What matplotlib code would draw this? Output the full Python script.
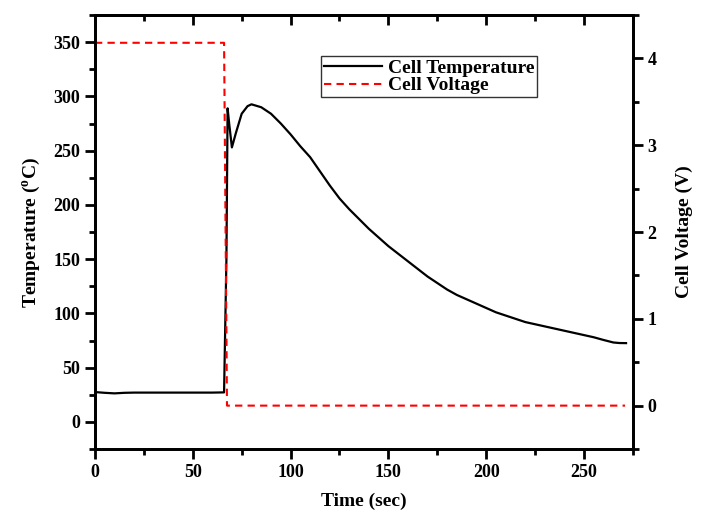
import numpy as np
import matplotlib
matplotlib.use('Agg')
import matplotlib.pyplot as plt
from matplotlib.ticker import MultipleLocator

plt.rcParams['font.family'] = ['Liberation Serif', 'DejaVu Serif']
plt.rcParams['font.weight'] = 'bold'
plt.rcParams['mathtext.fontset'] = 'custom'
plt.rcParams['mathtext.rm'] = 'Liberation Serif'
plt.rcParams['mathtext.it'] = 'Liberation Serif'
plt.rcParams['mathtext.bf'] = 'Liberation Serif:bold'

# temperature curve (sec, degC)
time_t = [0, 5, 10, 15, 20, 30, 40, 50, 60, 66, 67.2, 67.8, 68.6, 70, 72, 75, 78, 80,
          85, 90, 95, 100, 105, 110, 115, 120, 125, 130, 135, 140, 145, 150, 155,
          160, 165, 170, 175, 180, 185, 190, 195, 200, 205, 210, 215, 220, 225,
          230, 235, 240, 245, 250, 255, 260, 265, 268, 271.5]
temp = [27.5, 26.8, 26.3, 26.8, 27, 27, 27, 27, 27, 27.2, 150, 289, 275, 253, 266, 284, 291, 292.7,
        290, 284, 275, 265, 254, 244, 231, 218, 206, 196, 187, 178, 170, 162, 155,
        148, 141, 134, 128, 122, 117, 113, 109, 105, 101, 98, 95, 92, 90,
        88, 86, 84, 82, 80, 78, 75.5, 73.2, 72.7, 72.6]

# cell voltage (sec, V)
time_v = [0, 66, 67.5, 271]
volt = [4.18, 4.18, 0, 0]

fig = plt.figure(figsize=(7.04, 5.16), dpi=100)
ax = fig.add_axes([0.1349, 0.1298, 0.899 - 0.1349, 0.9709 - 0.1298])
ax2 = ax.twinx()

l1, = ax.plot(time_t, temp, color='black', lw=1.6, label='Cell Temperature')
l2, = ax2.plot(time_v, volt, color='red', lw=1.5, dashes=(3.5, 2.5), label='Cell Voltage')

ax.set_xlim(0, 275)
ax.set_ylim(-25, 375)
ax2.set_ylim(-0.5, 4.5)

ax.xaxis.set_major_locator(MultipleLocator(50))
ax.xaxis.set_minor_locator(MultipleLocator(25))
ax.yaxis.set_major_locator(MultipleLocator(50))
ax.yaxis.set_minor_locator(MultipleLocator(25))
ax2.yaxis.set_major_locator(MultipleLocator(1))
ax2.yaxis.set_minor_locator(MultipleLocator(0.5))

for a in (ax, ax2):
    for s in a.spines.values():
        s.set_linewidth(2)
ax.tick_params(axis='both', which='major', length=7, width=2, labelsize=13, direction='out')
ax.tick_params(axis='both', which='minor', length=4, width=2, direction='out')
ax2.tick_params(axis='y', which='major', length=7, width=2, labelsize=13, direction='out')
ax2.tick_params(axis='y', which='minor', length=4, width=2, direction='out')

# mirrored ticks on top, pointing inward
top = ax.secondary_xaxis('top')
top.xaxis.set_major_locator(MultipleLocator(50))
top.xaxis.set_minor_locator(MultipleLocator(25))
top.tick_params(which='major', direction='in', length=7, width=2, labeltop=False)
top.tick_params(which='minor', direction='in', length=4, width=2)
top.spines['top'].set_linewidth(2)

ax.set_xlabel('Time (sec)', fontsize=14, fontweight='bold', labelpad=9)
ax.set_ylabel(r'Temperature ($^{\rm o}$C)', fontsize=14, fontweight='bold', labelpad=8)
ax2.set_ylabel('Cell Voltage (V)', fontsize=14, fontweight='bold', labelpad=14)

leg = ax.legend(handles=[l1, l2], loc='upper left', bbox_to_anchor=(0.42, 0.905),
                fontsize=14, frameon=True, fancybox=False, edgecolor='black',
                labelspacing=0.0, borderpad=0.15, handlelength=3.0, handletextpad=0.3,
                borderaxespad=0)
leg.get_frame().set_linewidth(1)

fig.savefig('out.png', dpi=100)
